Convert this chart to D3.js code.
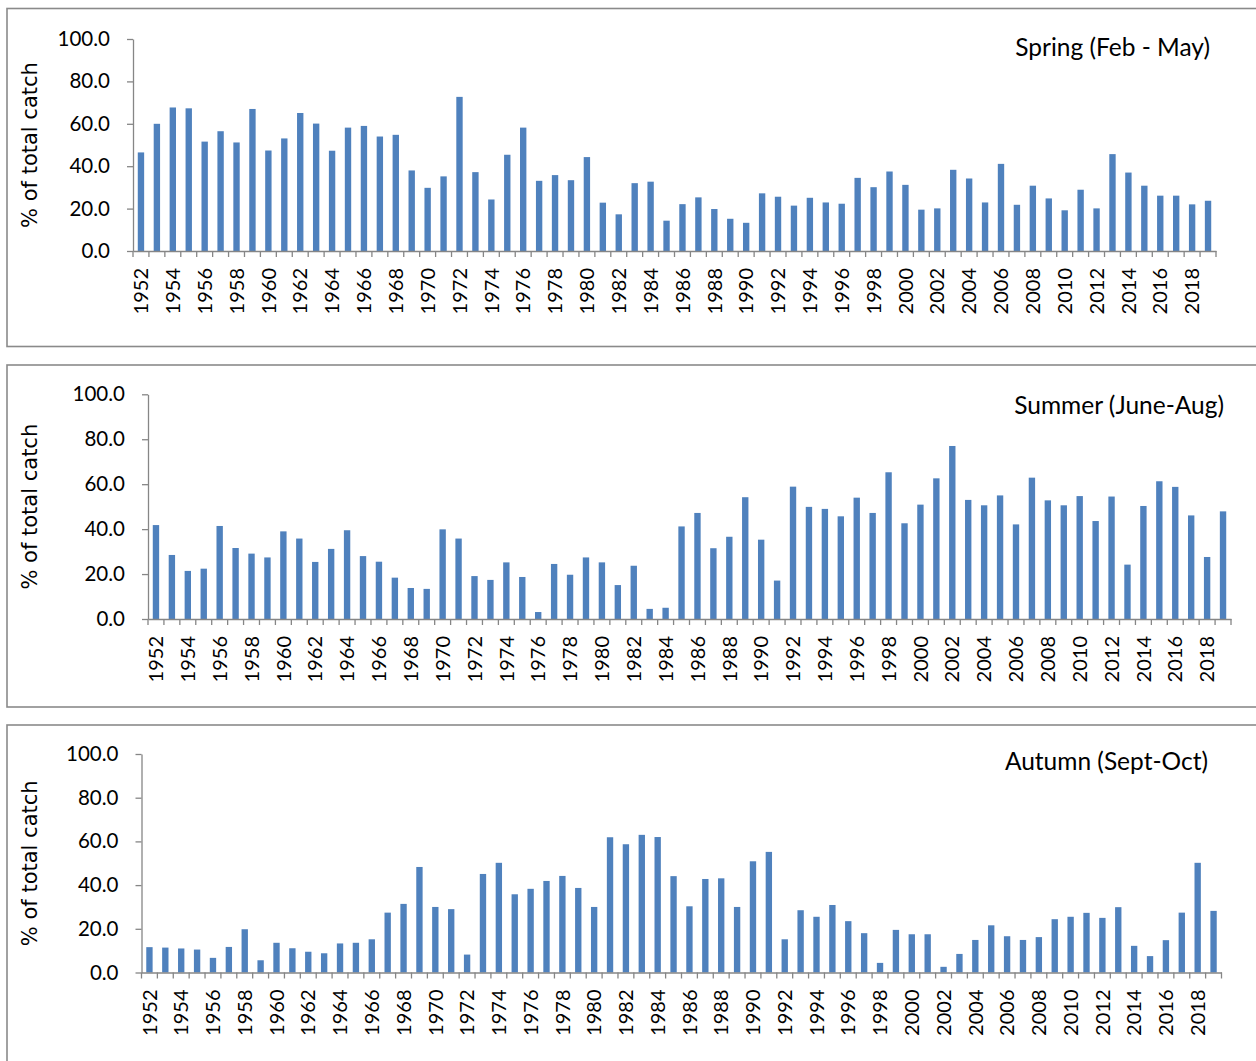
<!DOCTYPE html>
<html>
<head>
<meta charset="utf-8">
<title>Seasonal share of total catch, 1952–2019</title>
<script src="https://cdn.jsdelivr.net/npm/d3@7"></script>
<style>
  html, body { margin: 0; padding: 0; background: #ffffff; }
  svg { display: block; }
</style>
</head>
<body>
<svg id="chart" width="1256" height="1061"></svg>
<script>
// Share of the annual catch taken in each season (%)
const years = d3.range(1952, 2020);

const spring = [
  46.5, 60.0, 67.7, 67.3, 51.6, 56.5, 51.2, 67.0, 47.4, 53.1,
  65.1, 60.1, 47.3, 58.2, 59.0, 54.0, 54.8, 38.0, 29.8, 35.2,
  72.7, 37.2, 24.3, 45.4, 58.2, 33.1, 35.8, 33.4, 44.3, 22.8,
  17.3, 32.0, 32.7, 14.3, 22.1, 25.3, 19.8, 15.2, 13.3, 27.2,
  25.6, 21.4, 25.1, 22.9, 22.3, 34.5, 30.1, 37.5, 31.2, 19.5,
  20.1, 38.3, 34.2, 22.9, 41.1, 21.8, 30.8, 24.8, 19.2, 28.9,
  20.1, 45.7, 37.0, 30.8, 26.1, 26.1, 22.0, 23.7
];

const summer = [
  41.8, 28.5, 21.4, 22.4, 41.4, 31.6, 29.1, 27.4, 39.0, 35.8,
  25.4, 31.2, 39.5, 28.0, 25.5, 18.4, 13.8, 13.4, 39.9, 35.8,
  19.1, 17.4, 25.2, 18.7, 3.1, 24.5, 19.7, 27.4, 25.2, 15.1,
  23.7, 4.5, 5.0, 41.2, 47.2, 31.5, 36.6, 54.2, 35.3, 17.1,
  58.9, 49.9, 49.0, 45.7, 54.0, 47.2, 65.3, 42.6, 50.9, 62.6,
  77.0, 53.0, 50.6, 55.0, 42.1, 62.9, 52.8, 50.6, 54.7, 43.6,
  54.5, 24.2, 50.3, 61.3, 58.8, 46.1, 27.6, 47.9
];

const autumn = [
  11.6, 11.4, 11.0, 10.5, 6.7, 11.7, 19.8, 5.6, 13.6, 11.1,
  9.5, 8.8, 13.3, 13.6, 15.2, 27.4, 31.4, 48.3, 30.0, 29.0,
  8.2, 45.1, 50.2, 35.8, 38.3, 41.9, 44.2, 38.7, 30.0, 61.9,
  58.7, 63.0, 62.0, 44.1, 30.3, 42.8, 43.1, 30.0, 50.9, 55.2,
  15.2, 28.5, 25.5, 30.9, 23.5, 18.0, 4.4, 19.5, 17.5, 17.5,
  2.6, 8.5, 14.9, 21.6, 16.6, 14.9, 16.2, 24.4, 25.5, 27.3,
  25.0, 29.9, 12.2, 7.5, 14.8, 27.4, 50.2, 28.2
];

const seasonTitles = ["Spring (Feb - May)", "Summer (June-Aug)", "Autumn (Sept-Oct)"];
const yTicks = [0, 20, 40, 60, 80, 100];
const yearLabels = years.filter((d, i) => i % 2 === 0);
const yTitle = "% of total catch";

// Layout of the three stacked panels
const panels = [
  { values: spring, title: seasonTitles[0],
    frame: { x: 7, y: 8.5, w: 1260, h: 338 },
    plot: { left: 133, right: 1216, top: 39, bottom: 251 },
    titleX: 1210, titleY: 56 },
  { values: summer, title: seasonTitles[1],
    frame: { x: 7, y: 365, w: 1260, h: 342 },
    plot: { left: 148, right: 1231, top: 394.3, bottom: 619 },
    titleX: 1224, titleY: 414 },
  { values: autumn, title: seasonTitles[2],
    frame: { x: 7, y: 725, w: 1260, h: 400 },
    plot: { left: 141.5, right: 1221.5, top: 754, bottom: 972.5 },
    titleX: 1208, titleY: 770 }
];

const BAR = "#4F81BD";
const AXIS = "#868686";
const FRAME = "#8a8a8a";
const LABEL_FONT = "Lato, 'Open Sans', sans-serif";

const svg = d3.select("#chart");

panels.forEach(p => {
  const g = svg.append("g");

  // chart frame
  g.append("rect")
    .attr("x", p.frame.x).attr("y", p.frame.y)
    .attr("width", p.frame.w).attr("height", p.frame.h)
    .attr("fill", "none").attr("stroke", FRAME).attr("stroke-width", 1.6);

  const x = d3.scaleBand()
    .domain(years)
    .range([p.plot.left, p.plot.right])
    .paddingInner(0.6)
    .paddingOuter(0.3);

  const y = d3.scaleLinear()
    .domain([0, 100])
    .range([p.plot.bottom, p.plot.top]);

  // bars
  g.append("g").selectAll("rect")
    .data(years.map((yr, i) => ({ year: yr, value: p.values[i] })))
    .join("rect")
    .attr("x", d => x(d.year))
    .attr("width", x.bandwidth())
    .attr("y", d => y(d.value))
    .attr("height", d => y(0) - y(d.value))
    .attr("fill", BAR);

  // value axis
  const yAxis = g.append("g")
    .attr("transform", `translate(${p.plot.left},0)`)
    .call(d3.axisLeft(y)
      .tickValues(yTicks)
      .tickFormat(d3.format(".1f"))
      .tickSize(6)
      .tickSizeOuter(0)
      .tickPadding(17));
  yAxis.select(".domain").attr("stroke", AXIS).attr("stroke-width", 1.3);
  yAxis.selectAll(".tick line").attr("stroke", AXIS).attr("stroke-width", 1.3);
  yAxis.selectAll(".tick text")
    .attr("fill", "#000")
    .style("font-family", LABEL_FONT)
    .style("font-size", "20.5px");

  // category axis: labels on every other year, tick marks between categories
  const xAxis = g.append("g")
    .attr("transform", `translate(0,${p.plot.bottom})`)
    .call(d3.axisBottom(x)
      .tickValues(yearLabels)
      .tickSize(0)
      .tickSizeOuter(0)
      .tickPadding(0));
  xAxis.select(".domain").attr("stroke", AXIS).attr("stroke-width", 1.3);
  xAxis.selectAll(".tick text")
    .attr("fill", "#000")
    .attr("transform", "rotate(-90)")
    .attr("x", -17)
    .attr("y", 0)
    .attr("dy", "0.36em")
    .attr("text-anchor", "end")
    .style("font-family", LABEL_FONT)
    .style("font-size", "20px");

  const gap = (x.step() - x.bandwidth()) / 2;
  const bounds = years.map(yr => x(yr) - gap).concat([p.plot.right]);
  xAxis.append("g").selectAll("line")
    .data(bounds)
    .join("line")
    .attr("x1", d => d).attr("x2", d => d)
    .attr("y1", 0).attr("y2", 6)
    .attr("stroke", AXIS).attr("stroke-width", 1.3);

  // axis title
  g.append("text")
    .attr("transform", `translate(37,${(p.plot.top + p.plot.bottom) / 2}) rotate(-90)`)
    .attr("text-anchor", "middle")
    .style("font-family", "'DejaVu Sans', Verdana, sans-serif")
    .style("font-size", "21px")
    .attr("fill", "#000")
    .text(yTitle);

  // season title
  g.append("text")
    .attr("x", p.titleX)
    .attr("y", p.titleY)
    .attr("text-anchor", "end")
    .style("font-family", LABEL_FONT)
    .style("font-size", "24.5px")
    .attr("fill", "#000")
    .text(p.title);
});
</script>
</body>
</html>
